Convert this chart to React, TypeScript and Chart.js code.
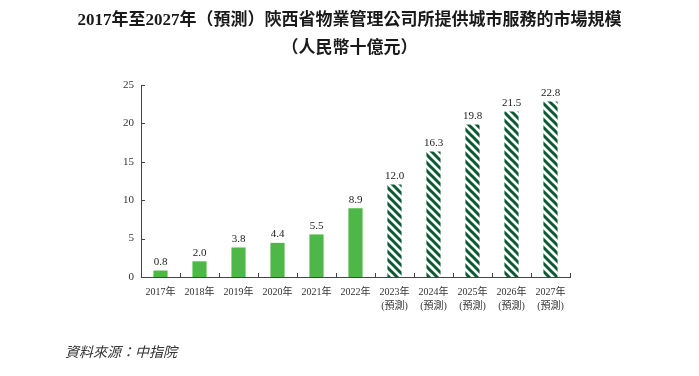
import React, { useEffect, useRef } from "react";
import { Chart, registerables } from "chart.js";

Chart.register(...registerables);

const categories = ["2017年", "2018年", "2019年", "2020年", "2021年", "2022年", "2023年", "2024年", "2025年", "2026年", "2027年"];
const forecastFlags = [false, false, false, false, false, false, true, true, true, true, true];
const forecastNote = "(預測)";
const values = [0.8, 2.0, 3.8, 4.4, 5.5, 8.9, 12.0, 16.3, 19.8, 21.5, 22.8];
const yTickValues = [0, 5, 10, 15, 20, 25];
const titleLines = ["2017年至2027年（預測）陝西省物業管理公司所提供城市服務的市場規模", "（人民幣十億元）"];
const sourceText = "資料來源：中指院";

const SERIF = "'Liberation Serif', 'DejaVu Serif', 'Noto Sans CJK TC', serif";
const GREEN = "#4db848";
const DARK_GREEN = "#0b5a32";

function makeHatch(): CanvasPattern | string {
  const size = 8;
  const c = document.createElement("canvas");
  c.width = size;
  c.height = size;
  const ctx = c.getContext("2d");
  if (!ctx) return DARK_GREEN;
  ctx.fillStyle = "#ffffff";
  ctx.fillRect(0, 0, size, size);
  ctx.strokeStyle = DARK_GREEN;
  ctx.lineWidth = 3;
  ctx.lineCap = "square";
  for (const off of [-size, 0, size]) {
    ctx.beginPath();
    ctx.moveTo(off, 0);
    ctx.lineTo(off + size, size);
    ctx.stroke();
  }
  const p = ctx.createPattern(c, "repeat");
  return p || DARK_GREEN;
}

export default function App() {
  const ref = useRef<HTMLCanvasElement | null>(null);

  useEffect(() => {
    document.body.style.margin = "0";
    const canvas = ref.current;
    if (!canvas) return;
    const hatch = makeHatch();

    const decor = {
      id: "decor",
      afterDraw(chart: any) {
        const ctx = chart.ctx;
        const area = chart.chartArea;
        const xs = chart.scales.x;
        const ys = chart.scales.y;
        ctx.save();
        // title
        ctx.fillStyle = "#1a1a1a";
        ctx.textAlign = "center";
        ctx.textBaseline = "middle";
        ctx.font = `bold 17px ${SERIF}`;
        ctx.fillText(titleLines[0], chart.width / 2, 21);
        ctx.fillText(titleLines[1], chart.width / 2, 49);
        // inward ticks
        ctx.strokeStyle = "#444";
        ctx.lineWidth = 1;
        yTickValues.forEach((v) => {
          const y = Math.round(ys.getPixelForValue(v)) + 0.5;
          ctx.beginPath();
          ctx.moveTo(area.left, y);
          ctx.lineTo(area.left + 4, y);
          ctx.stroke();
        });
        const half = (xs.getPixelForValue(1) - xs.getPixelForValue(0)) / 2;
        for (let i = 0; i < categories.length; i++) {
          const x = Math.round(xs.getPixelForValue(i) + half) + 0.5;
          ctx.beginPath();
          ctx.moveTo(x, area.bottom);
          ctx.lineTo(x, area.bottom - 4);
          ctx.stroke();
        }
        // data labels
        const meta = chart.getDatasetMeta(0);
        ctx.fillStyle = "#1a1a1a";
        ctx.font = `11px ${SERIF}`;
        ctx.textAlign = "center";
        ctx.textBaseline = "middle";
        meta.data.forEach((bar: any, i: number) => {
          ctx.fillText(values[i].toFixed(1), bar.x, bar.y - 9);
        });
        ctx.restore();
      },
    };

    const chart = new Chart(canvas, {
      type: "bar",
      data: {
        labels: categories.map((c, i) => (forecastFlags[i] ? [c, forecastNote] : c)),
        datasets: [
          {
            data: values,
            backgroundColor: values.map((_, i) => (forecastFlags[i] ? hatch : GREEN)) as any,
            borderWidth: 0,
            barThickness: 13.5,
          },
        ],
      },
      options: {
        animation: false,
        responsive: false,
        maintainAspectRatio: false,
        layout: { padding: { left: 0, right: 129, top: 85, bottom: 59 } },
        plugins: {
          legend: { display: false },
          title: { display: false },
          tooltip: { enabled: false },
        },
        scales: {
          x: {
            grid: { display: false, drawTicks: false },
            border: { display: true, color: "#444", width: 1 },
            ticks: {
              color: "#333",
              font: { family: SERIF, size: 10, lineHeight: 1.4 },
              padding: 8,
              maxRotation: 0,
              autoSkip: false,
            },
            afterFit(scale: any) {
              scale.height = 40;
            },
          },
          y: {
            min: 0,
            max: 25,
            grid: { display: false, drawTicks: false },
            border: { display: true, color: "#444", width: 1 },
            ticks: {
              stepSize: 5,
              color: "#333",
              font: { family: SERIF, size: 11 },
              padding: 7,
            },
            afterFit(scale: any) {
              scale.width = 141;
            },
          },
        },
      },
      plugins: [decor],
    });
    return () => chart.destroy();
  }, []);

  return (
    <div style={{ position: "relative", width: 699, height: 376, background: "#fff" }}>
      <canvas ref={ref} width={699} height={376} style={{ display: "block", width: 699, height: 376 }} />
      <div
        style={{
          position: "absolute",
          left: 65,
          top: 344,
          fontFamily: SERIF,
          fontStyle: "italic",
          fontSize: 14,
          lineHeight: "18px",
          color: "#333",
          whiteSpace: "nowrap",
        }}
      >
        {sourceText}
      </div>
    </div>
  );
}
